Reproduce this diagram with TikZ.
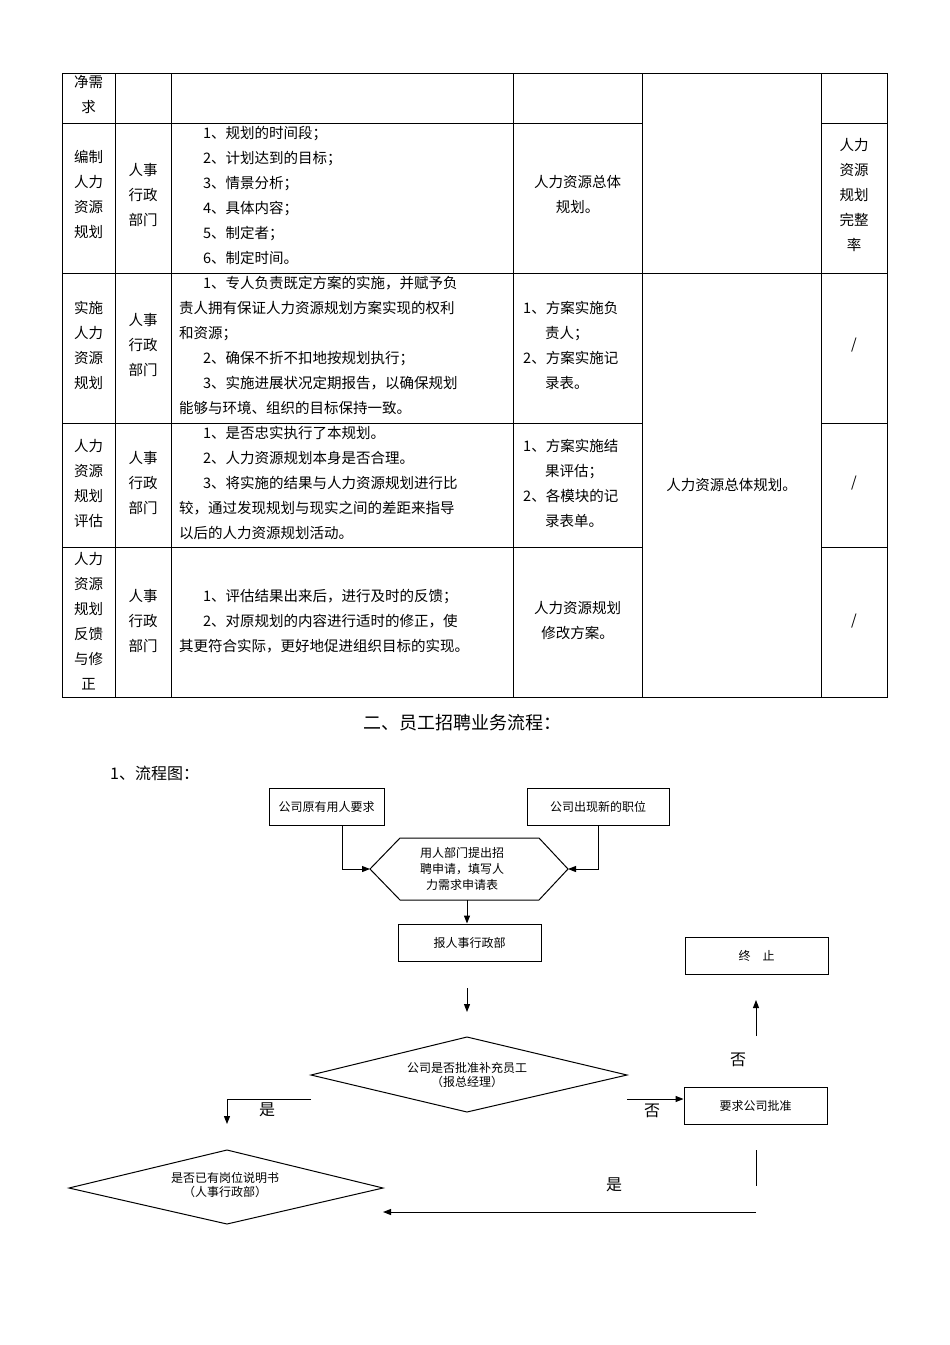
\documentclass[tikz,border=0pt]{standalone}
\usepackage{fontspec}
\setmainfont{Noto Sans CJK SC}
\usetikzlibrary{arrows.meta}
\begin{document}
\begin{tikzpicture}[x=1pt,y=-1pt,
  tl/.style={line width=0.9pt},
  cell/.style={font=\fontsize{14.5}{25}\selectfont,align=center,inner sep=0},
  lcell/.style={font=\fontsize{14.5}{25}\selectfont,align=left,inner sep=0,anchor=west},
  box/.style={draw,line width=0.9pt,minimum height=37pt,font=\fontsize{12}{16}\selectfont,inner sep=0},
  fl/.style={line width=1pt},
  ar/.style={line width=1pt,-{Triangle[length=8pt,width=6pt]}},
  lab/.style={font=\fontsize{16}{18}\selectfont,inner sep=0},
  dtxt/.style={font=\fontsize{12}{14}\selectfont,align=center,inner sep=0}]
\useasboundingbox (0,0) rectangle (950,1345);
\fill[white] (0,0) rectangle (950,1345);
% table grid
\draw[tl] (62,73) rectangle (887,697);
\foreach \x in {115,171,513,642,821} \draw[tl] (\x,73) -- (\x,697);
\foreach \y in {123,423,547} {\draw[tl] (62,\y) -- (642,\y); \draw[tl] (821,\y) -- (887,\y);}
\draw[tl] (62,273) -- (887,273);
% row 1
\node[cell] (r1a) at (88.5,94) {净需\\求};
% row 2
\node[cell] (r2a) at (88.5,194.5) {编制\\人力\\资源\\规划};
\node[cell] (r2b) at (143,195) {人事\\行政\\部门};
\node[lcell] (r2c) at (179,195) {\hspace*{24pt}1、规划的时间段；\\\hspace*{24pt}2、计划达到的目标；\\\hspace*{24pt}3、情景分析；\\\hspace*{24pt}4、具体内容；\\\hspace*{24pt}5、制定者；\\\hspace*{24pt}6、制定时间。};
\node[cell] (r2d) at (577.5,194.5) {人力资源总体\\规划。};
\node[cell] (r2f) at (854,194.5) {人力\\资源\\规划\\完整\\率};
% row 3
\node[cell] (r3a) at (88.5,345) {实施\\人力\\资源\\规划};
\node[cell] (r3b) at (143,345) {人事\\行政\\部门};
\node[lcell] (r3c) at (179,345.5) {\hspace*{24pt}1、专人负责既定方案的实施，并赋予负\\责人拥有保证人力资源规划方案实现的权利\\和资源；\\\hspace*{24pt}2、确保不折不扣地按规划执行；\\\hspace*{24pt}3、实施进展状况定期报告，以确保规划\\能够与环境、组织的目标保持一致。};
\node[lcell] (r3d) at (523,345) {1、方案实施负\\\hspace*{22pt}责人；\\2、方案实施记\\\hspace*{22pt}录表。};
\node[cell] (r3f) at (854,345) {/};
% row 4
\node[cell] (r4a) at (88.5,483.5) {人力\\资源\\规划\\评估};
\node[cell] (r4b) at (143,483) {人事\\行政\\部门};
\node[lcell] (r4c) at (179,483) {\hspace*{24pt}1、是否忠实执行了本规划。\\\hspace*{24pt}2、人力资源规划本身是否合理。\\\hspace*{24pt}3、将实施的结果与人力资源规划进行比\\较，通过发现规划与现实之间的差距来指导\\以后的人力资源规划活动。};
\node[lcell] (r4d) at (523,483.5) {1、方案实施结\\\hspace*{22pt}果评估；\\2、各模块的记\\\hspace*{22pt}录表单。};
\node[cell] (r4f) at (854,483) {/};
\node[cell] (r4e) at (731.5,485) {人力资源总体规划。};
% row 5
\node[cell] (r5a) at (88.5,621.5) {人力\\资源\\规划\\反馈\\与修\\正};
\node[cell] (r5b) at (143,621) {人事\\行政\\部门};
\node[lcell] (r5c) at (179,621) {\hspace*{24pt}1、评估结果出来后，进行及时的反馈；\\\hspace*{24pt}2、对原规划的内容进行适时的修正，使\\其更符合实际，更好地促进组织目标的实现。};
\node[cell] (r5d) at (577.5,621) {人力资源规划\\修改方案。};
\node[cell] (r5f) at (854,621) {/};
% titles
\node[font=\fontsize{18}{20}\selectfont,inner sep=0] (title) at (462,723) {二、员工招聘业务流程：};
\node[font=\fontsize{16}{18}\selectfont,inner sep=0,anchor=west] (sub) at (110,773) {1、流程图：};
% flowchart
\node[box,minimum width=115pt] (b1) at (326.5,807) {公司原有用人要求};
\node[box,minimum width=142pt] (b2) at (598,807) {公司出现新的职位};
\draw[fl] (370,869) -- (400,838) -- (539,838) -- (568,869) -- (539,900) -- (400,900) -- cycle;
\coordinate (hl) at (370,869); \coordinate (hr) at (568,869); \coordinate (hb) at (467,900);
\node[dtxt,font=\fontsize{12}{16}\selectfont] (hex) at (462,869) {用人部门提出招\\聘申请，填写人\\力需求申请表};
\draw[ar] (b1.south -| 342,0) |- (hl);
\draw[ar] (b2.south) |- (hr);
\node[box,minimum width=143pt] (b3) at (469.5,942.5) {报人事行政部};
\draw[ar] (hb) -- (b3.north -| hb);
\coordinate (a1s) at (467,988); \coordinate (a1e) at (467,1012);
\draw[ar] (a1s) -- (a1e);
\draw[fl] (311,1075) -- (467,1037) -- (627,1075) -- (467,1112) -- cycle;
\node[dtxt] (d1) at (467,1075) {公司是否批准补充员工\\（报总经理）};
\coordinate (d1l) at (311,1099); \coordinate (ylt) at (227,1124);
\draw[ar] (d1l) -| (ylt);
\node[lab] (yes1) at (267,1110) {是};
\node[box,minimum width=143pt] (b4) at (755.5,1105.5) {要求公司批准};
\coordinate (d1r) at (627,1099);
\draw[ar] (d1r) -- (b4.west |- d1r);
\node[lab] (no1) at (652,1111) {否};
\node[box,minimum width=143pt] (b5) at (756.5,956) {终\quad 止};
\coordinate (u1) at (756,1036); \coordinate (u2) at (756,1000);
\draw[ar] (u1) -- (u2);
\node[lab] (no2) at (738,1060) {否};
\coordinate (v1) at (756,1150); \coordinate (v2) at (756,1186);
\draw[fl] (v1) -- (v2);
\draw[fl] (69,1188) -- (227,1150) -- (383,1188) -- (227,1224) -- cycle;
\node[dtxt] (d2) at (225,1185) {是否已有岗位说明书\\（人事行政部）};
\coordinate (h1) at (756,1212); \coordinate (h2) at (383,1212);
\draw[ar] (h1) -- (h2);
\node[lab] (yes2) at (614,1185) {是};
\end{tikzpicture}
\end{document}
